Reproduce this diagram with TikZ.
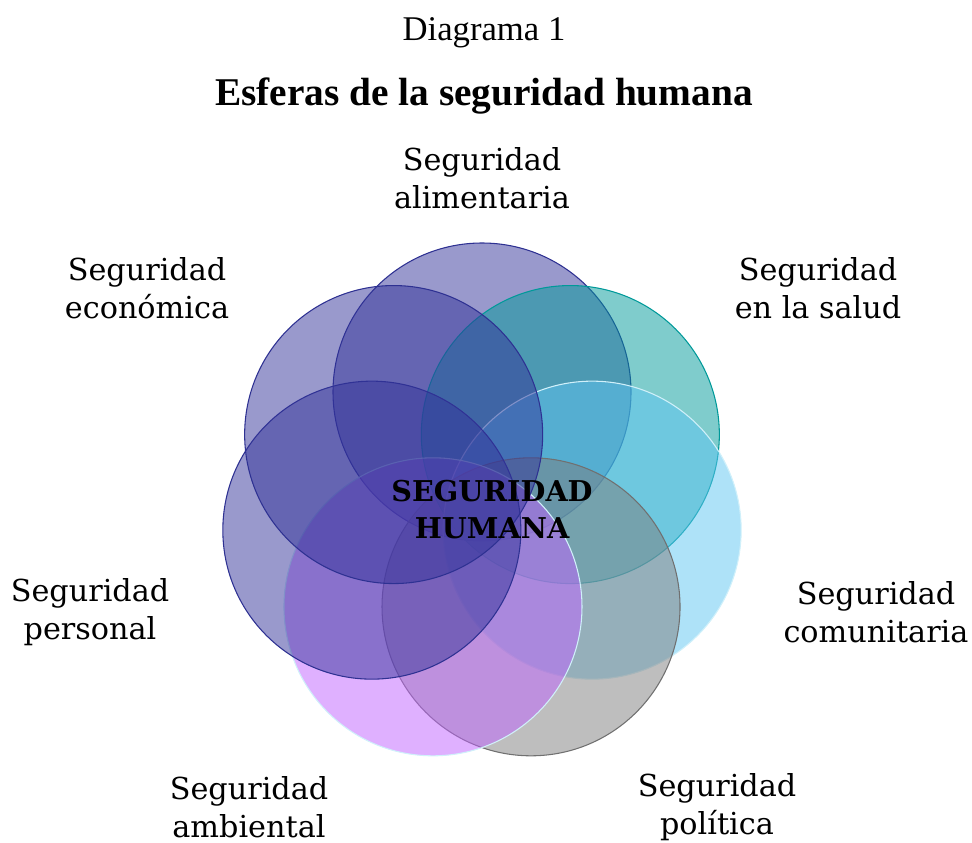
\documentclass[tikz,border=0pt]{standalone}
\usepackage{fontspec}
\setmainfont{DejaVu Serif}
\newfontfamily\ttlfont{Liberation Serif}
\usetikzlibrary{calc}
\definecolor{cAli}{HTML}{333399}
\definecolor{cSal}{HTML}{009999}
\definecolor{cCom}{HTML}{5EC5F2}
\definecolor{cPol}{HTML}{7D7D7D}
\definecolor{cAmb}{HTML}{C062FF}
\definecolor{lNavy}{HTML}{2E3192}
\definecolor{lTeal}{HTML}{009999}
\definecolor{lCyan}{HTML}{D0F0FA}
\definecolor{lGray}{HTML}{707070}
\tikzset{
  sphere/.style={circle, minimum size=223.5pt, inner sep=0pt, fill opacity=0.5, line width=0.8pt},
  lbl/.style={align=center, inner sep=0pt, font=\fontsize{22.7}{28.5}\selectfont},
  ttl/.style={inner sep=0pt, font=\ttlfont\fontsize{26}{29}\selectfont},
}
\begin{document}
\begin{tikzpicture}[x=0.75pt,y=-0.75pt]
\useasboundingbox (0,0) rectangle (972,843);
\coordinate (ctr) at (482,505);
\node[sphere, fill=cAli, draw=lNavy] (ali) at ($(ctr)+(90:84.75pt)$) {};
\node[sphere, fill=cSal, draw=lTeal] (sal) at ($(ctr)+(38.57:84.75pt)$) {};
\node[sphere, fill=cCom, draw=lCyan] (com) at ($(ctr)+(-12.86:84.75pt)$) {};
\node[sphere, fill=cPol, draw=lGray] (pol) at ($(ctr)+(-64.29:84.75pt)$) {};
\node[sphere, fill=cAmb, draw=lCyan] (amb) at ($(ctr)+(-115.71:84.75pt)$) {};
\node[sphere, fill=cAli, draw=lNavy] (per) at ($(ctr)+(-167.14:84.75pt)$) {};
\node[sphere, fill=cAli, draw=lNavy] (eco) at ($(ctr)+(141.43:84.75pt)$) {};

\node[ttl] (t1) at (484,33) {Diagrama 1};
\node[ttl, font=\ttlfont\fontsize{29.5}{33}\bfseries\selectfont] (t2) at (484,96) {Esferas de la seguridad humana};

\node[lbl] (lali) at (482,178) {Seguridad\\alimentaria};
\node[lbl] (lsal) at (818,288) {Seguridad\\en la salud};
\node[lbl] (leco) at (147,288) {Seguridad\\económica};
\node[lbl] (lcom) at (876,612) {Seguridad\\comunitaria};
\node[lbl] (lper) at (90,612) {Seguridad\\personal};
\node[lbl] (lamb) at (249,807) {Seguridad\\ambiental};
\node[lbl] (lpol) at (717,807) {Seguridad\\política};
\node[align=center, inner sep=0pt, font=\fontsize{21.5}{27.75}\bfseries\selectfont] (hum) at (492,510) {SEGURIDAD\\HUMANA};
\end{tikzpicture}
\end{document}
